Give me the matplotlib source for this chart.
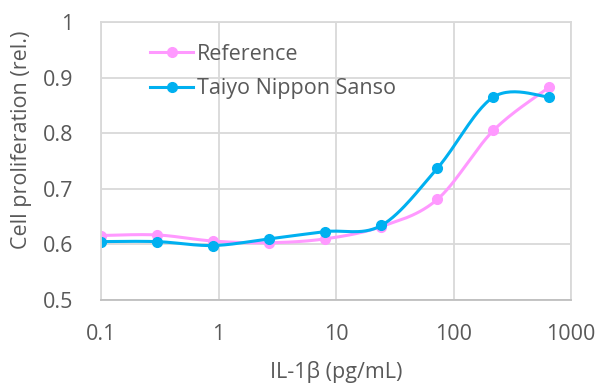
import numpy as np
import matplotlib
matplotlib.use("Agg")
import matplotlib.pyplot as plt
from matplotlib.lines import Line2D

conc = [0.1, 0.3, 0.9, 2.7, 8.1, 24.3, 72.9, 218.7, 656.1]
reference = [0.616, 0.617, 0.606, 0.603, 0.610, 0.632, 0.681, 0.805, 0.883]
tns = [0.605, 0.605, 0.598, 0.610, 0.623, 0.634, 0.737, 0.865, 0.865]
series_names = ["Reference", "Taiyo Nippon Sanso"]
colors = ["#FF99FF", "#00B0F0"]
yticks = [0.5, 0.6, 0.7, 0.8, 0.9, 1.0]
ytick_labels = ["0.5", "0.6", "0.7", "0.8", "0.9", "1"]
xticks = [0.1, 1, 10, 100, 1000]
xtick_labels = ["0.1", "1", "10", "100", "1000"]

plt.rcParams['font.family'] = ['Open Sans', 'DejaVu Sans']
txt = "#595959"
fs = 15.5


def smooth(x, y, sx=117.5, sy=556.0, n=30):
    # Excel-like smoothed line: cubic Bezier with Catmull-Rom control points (screen-ish space)
    px = np.log10(x) * sx
    py = np.array(y) * sy
    P = np.column_stack([px, py])
    P = np.vstack([P[0], P, P[-1]])
    out = []
    t = np.linspace(0, 1, n)[:, None]
    for i in range(1, len(P) - 2):
        p0, p1, p2, p3 = P[i - 1], P[i], P[i + 1], P[i + 2]
        c1 = p1 + (p2 - p0) / 6
        c2 = p2 - (p3 - p1) / 6
        b = (1 - t) ** 3 * p1 + 3 * (1 - t) ** 2 * t * c1 + 3 * (1 - t) * t ** 2 * c2 + t ** 3 * p2
        out.append(b)
    out = np.vstack(out)
    return 10 ** (out[:, 0] / sx), out[:, 1] / sy


W, H = 598, 385
fig = plt.figure(figsize=(W / 100, H / 100), dpi=100)
ax = fig.add_axes([101 / W, 1 - 300 / H, 470 / W, 278 / H])

for ys, name, c in zip([reference, tns], series_names, colors):
    sxv, syv = smooth(conc, ys)
    ax.plot(sxv, syv, color=c, lw=2.2, solid_capstyle="round")
    ax.plot(conc, ys, "o", color=c, ms=7)

handles = [Line2D([], [], color=c, lw=2.2, marker="o", ms=7) for c in colors]
ax.legend(handles, series_names, loc="upper left",
          bbox_to_anchor=(150 / W, 1 - 44 / H), bbox_transform=fig.transFigure,
          frameon=False, fontsize=fs, handlelength=2.0, handletextpad=0.2,
          labelspacing=0.62, borderaxespad=0, borderpad=0, labelcolor=txt)

ax.set_xscale("log")
ax.set_xlim(0.1, 1000)
ax.set_ylim(0.5, 1.0)
ax.set_xticks(xticks)
ax.set_xticklabels(xtick_labels)
ax.set_yticks(yticks)
ax.set_yticklabels(ytick_labels)
ax.minorticks_off()
ax.tick_params(length=0, labelsize=fs, colors=txt)
ax.tick_params(axis="x", pad=17)
ax.tick_params(axis="y", pad=20)
ax.grid(True, color="#D9D9D9", lw=1.3)
ax.set_axisbelow(True)
for s in ax.spines.values():
    s.set_color("#D9D9D9")
    s.set_linewidth(1.3)
ax.spines["bottom"].set_color("#BFBFBF")

fig.text(336 / W, 1 - 372 / H, "IL-1β (pg/mL)", fontsize=fs, color=txt,
         ha="center", va="center")
fig.text(22 / W, 1 - 140 / H, "Cell proliferation (rel.)", fontsize=fs, color=txt,
         ha="center", va="center", rotation=90)

fig.savefig("out.png", dpi=100)
